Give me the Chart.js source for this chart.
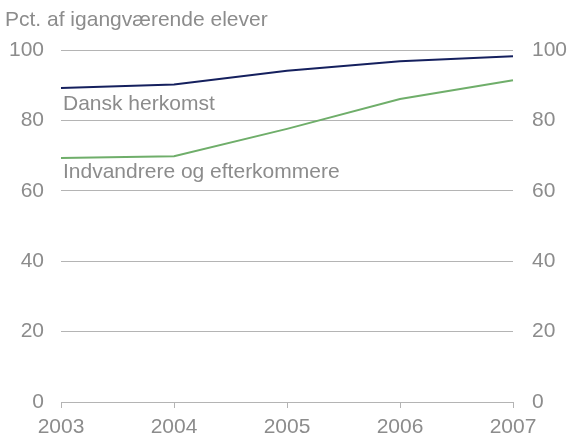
<!DOCTYPE html>
<html>
<head>
<meta charset="utf-8">
<script src="https://cdn.jsdelivr.net/npm/chart.js@4"></script>
<style>
    html, body { margin: 0; padding: 0; background: #fff; }
    #wrap { position: relative; width: 568px; height: 440px; }
</style>
</head>
<body>
<div id="wrap"><canvas id="chart" width="568" height="440"></canvas></div>
<script>
// Data
const years = ['2003', '2004', '2005', '2006', '2007'];
const danskHerkomst = [89.2, 90.2, 94.1, 96.8, 98.2];
const indvandrere = [69.3, 69.8, 77.6, 86.1, 91.4];
const yTicks = [0, 20, 40, 60, 80, 100];

const textGray = '#8c8c8c';
const gridGray = '#b4b4b4';
const fontFamily = '"Liberation Sans", Arial, sans-serif';
const fontSize = 21;

// Titles and series labels drawn on the canvas
const labelsPlugin = {
    id: 'labels',
    afterDraw(chart) {
        const ctx = chart.ctx;
        const y = chart.scales.y;
        const area = chart.chartArea;
        ctx.save();
        ctx.fillStyle = textGray;
        ctx.font = fontSize + 'px ' + fontFamily;
        ctx.textBaseline = 'middle';
        ctx.textAlign = 'left';
        ctx.fillText('Pct. af igangværende elever', 5, 20);
        ctx.fillText('Dansk herkomst', area.left + 2, y.getPixelForValue(84.5));
        ctx.fillText('Indvandrere og efterkommere', area.left + 2, y.getPixelForValue(65.4));
        ctx.restore();
    }
};

new Chart(document.getElementById('chart'), {
    type: 'line',
    data: {
        labels: years,
        datasets: [{
            label: 'Dansk herkomst',
            data: danskHerkomst,
            borderColor: '#15205e',
            borderWidth: 2,
            pointRadius: 0,
            tension: 0
        }, {
            label: 'Indvandrere og efterkommere',
            data: indvandrere,
            borderColor: '#6fae6a',
            borderWidth: 2,
            pointRadius: 0,
            tension: 0
        }]
    },
    options: {
        responsive: false,
        animation: false,
        layout: { padding: { top: 50, left: 0, right: 0, bottom: 0 } },
        plugins: {
            legend: { display: false },
            tooltip: { enabled: false }
        },
        scales: {
            x: {
                offset: false,
                grid: {
                    drawOnChartArea: false,
                    drawTicks: true,
                    tickLength: 6,
                    color: gridGray
                },
                border: { display: true, color: gridGray },
                ticks: {
                    color: textGray,
                    font: { family: fontFamily, size: fontSize },
                    padding: 7,
                    maxRotation: 0
                },
                afterFit(scale) { scale.height = 38; }
            },
            y: {
                position: 'left',
                min: 0,
                max: 100,
                afterBuildTicks(scale) { scale.ticks = yTicks.map(v => ({ value: v })); },
                grid: { color: gridGray, drawTicks: false },
                border: { display: false },
                ticks: {
                    color: textGray,
                    font: { family: fontFamily, size: fontSize },
                    padding: 17
                },
                afterFit(scale) { scale.width = 61; }
            },
            y2: {
                position: 'right',
                min: 0,
                max: 100,
                afterBuildTicks(scale) { scale.ticks = yTicks.map(v => ({ value: v })); },
                grid: { drawOnChartArea: false, drawTicks: false },
                border: { display: false },
                ticks: {
                    color: textGray,
                    font: { family: fontFamily, size: fontSize },
                    padding: 19
                },
                afterFit(scale) { scale.width = 55; }
            }
        }
    },
    plugins: [labelsPlugin]
});
</script>
</body>
</html>
